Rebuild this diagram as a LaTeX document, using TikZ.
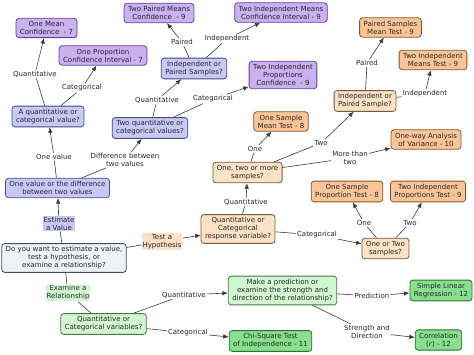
\documentclass[tikz,border=0pt]{standalone}
\usepackage{fontspec}
\setmainfont{DejaVu Sans}
\usetikzlibrary{arrows.meta}

\definecolor{estfill}{HTML}{C8C8F7}
\definecolor{estdraw}{HTML}{4A4A94}
\definecolor{cifill}{HTML}{CBB0F2}
\definecolor{cidraw}{HTML}{5E4494}
\definecolor{hypfill}{HTML}{FBE1C6}
\definecolor{hypdraw}{HTML}{765A40}
\definecolor{testfill}{HTML}{FCC597}
\definecolor{testdraw}{HTML}{85562A}
\definecolor{relfill}{HTML}{D2F7D0}
\definecolor{reldraw}{HTML}{447A44}
\definecolor{resfill}{HTML}{86E08E}
\definecolor{resdraw}{HTML}{307030}
\definecolor{startfill}{HTML}{EEF2F6}
\definecolor{startdraw}{HTML}{4A4E53}
\definecolor{linkgray}{HTML}{3A3A3A}

\begin{document}
\begin{tikzpicture}[x=1pt, y=-1pt,
    font=\fontsize{7}{8}\selectfont,
    concept/.style={rounded corners=3pt, draw, line width=0.8pt, align=center,
        inner xsep=4pt, inner ysep=3pt, text=black!85},
    estq/.style={concept, fill=estfill, draw=estdraw},
    cires/.style={concept, fill=cifill, draw=cidraw},
    startq/.style={concept, fill=startfill, draw=startdraw},
    hypq/.style={concept, fill=hypfill, draw=hypdraw},
    testres/.style={concept, fill=testfill, draw=testdraw},
    relq/.style={concept, fill=relfill, draw=reldraw},
    relres/.style={concept, fill=resfill, draw=resdraw},
    link/.style={inner sep=1pt, align=center, text=black!85},
    conn/.style={draw=linkgray, line width=0.6pt},
    arr/.style={conn, -{Latex[length=5.5pt,width=4.5pt]}}]
        \useasboundingbox (0,0) rectangle (474,355);

        % start question
        \node[startq] (start) at (64,258) {Do you want to estimate a value,\\test a hypothesis, or\\examine a relationship?};

        % estimate a value
        \node[estq] (onevaluediff) at (57.5,188) {One value or the difference\\between two values};
        \node[estq] (quantcatvalue) at (48,116.5) {A quantitative or\\categorical value?};
        \node[estq] (twoquantcat) at (150,128) {Two quantitative or\\categorical values?};
        \node[estq] (indeppairedci) at (194,68.5) {Independent or\\Paired Samples?};
        \node[cires] (onemeanci) at (46.5,28) {One Mean\\Confidence~ - 7};
        \node[cires] (onepropci) at (103,55.5) {One Proportion\\Confidence Interval - 7};
        \node[cires] (twopairedci) at (159,13) {Two Paired Means\\Confidence~ - 9};
        \node[cires] (twoindepmeansci) at (281,12.5) {Two Independent Means\\Confidence Interval - 9};
        \node[cires] (twoindeppropci) at (283,75) {Two Independent\\Proportions\\Confidence~ - 9};

        % test a hypothesis
        \node[hypq] (responsevar) at (238,229) {Quantitative or\\Categorical\\response variable?};
        \node[hypq] (numsamples) at (247.5,172.5) {One, two or more\\samples?};
        \node[hypq] (indeppairedtest) at (365,101) {Independent or\\Paired Sample?};
        \node[hypq] (oneortwo) at (385.5,248.5) {One or Two\\samples?};
        \node[testres] (onemeantest) at (281,121.5) {One Sample\\Mean Test - 8};
        \node[testres] (pairedtest) at (390.5,27.5) {Paired Samples\\Mean Test - 9};
        \node[testres] (twoindepmeanstest) at (433,60) {Two Independent\\Means Test - 9};
        \node[testres] (anova) at (426,139.5) {One-way Analysis\\of Variance - 10};
        \node[testres] (onepropest) at (347,191.5) {One Sample\\Proportion Test - 8};
        \node[testres] (twoproptest) at (428,191.5) {Two Independent\\Proportions Test - 9};

        % examine a relationship
        \node[relq] (relvars) at (103.5,324) {Quantitative or\\Categorical variables?};
        \node[relq] (predictq) at (282.5,290.5) {Make a prediction or\\examine the strength and\\direction of the relationship?};
        \node[relres] (regression) at (441,290.5) {Simple Linear\\Regression - 12};
        \node[relres] (chisq) at (270.5,341) {Chi-Square Test\\of Independence - 11};
        \node[relres] (correlation) at (438.5,340) {Correlation\\(\textit{r}) - 12};

        % linking phrases
        \node[link, fill=estfill] (estimate) at (59,223.5) {Estimate\\a Value};
        \node[link, fill=hypfill] (hypothesis) at (162,241.5) {Test a\\Hypothesis};
        \node[link, fill=relfill] (examine) at (68,293) {Examine a\\Relationship};
        \node[link] (lonevalue) at (54,157) {One value};
        \node[link] (ldiff) at (125,160) {Difference between\\two values};
        \node[link] (lquantone) at (35,74) {Quantitative};
        \node[link] (lcatone) at (82,88) {Categorical};
        \node[link] (lquanttwo) at (157,100) {Quantitative};
        \node[link] (lcattwo) at (213,99) {Categorical};
        \node[link] (lpairedci) at (182,42) {Paired};
        \node[link] (lindepci) at (227,39) {Independent};
        \node[link] (lquantresp) at (246,202) {Quantitative};
        \node[link] (lcatresp) at (317,235) {Categorical};
        \node[link] (lonemean) at (255,149) {One};
        \node[link] (ltwomean) at (321,143) {Two};
        \node[link] (lmore) at (350,158) {More than\\two};
        \node[link] (lpairedtest) at (367,63) {Paired};
        \node[link] (lindeptest) at (425,94) {Independent};
        \node[link] (loneprop) at (364,223) {One};
        \node[link] (ltwoprop) at (410,223) {Two};
        \node[link] (lquantrel) at (184,295) {Quantitative};
        \node[link] (lcatrel) at (188,333) {Categorical};
        \node[link] (lpredict) at (372,296) {Prediction};
        \node[link] (lstrength) at (367,332) {Strength and\\Direction};

        % connectors, estimate branch
        \draw[conn] (start) -- (estimate);  \draw[arr] (estimate) -- (onevaluediff);
        \draw[conn] (onevaluediff) -- (lonevalue);  \draw[arr] (lonevalue) -- (quantcatvalue);
        \draw[conn] (onevaluediff) -- (ldiff);  \draw[arr] (ldiff) -- (twoquantcat);
        \draw[conn] (quantcatvalue) -- (lquantone);  \draw[arr] (lquantone) -- (onemeanci);
        \draw[conn] (quantcatvalue) -- (lcatone);  \draw[arr] (lcatone) -- (onepropci);
        \draw[conn] (twoquantcat) -- (lquanttwo);  \draw[arr] (lquanttwo) -- (indeppairedci);
        \draw[conn] (twoquantcat) -- (lcattwo);  \draw[arr] (lcattwo) -- (twoindeppropci);
        \draw[conn] (indeppairedci) -- (lpairedci);  \draw[arr] (lpairedci) -- (twopairedci);
        \draw[conn] (indeppairedci) -- (lindepci);  \draw[arr] (lindepci) -- (twoindepmeansci);

        % connectors, hypothesis branch
        \draw[conn] (start) -- (hypothesis);  \draw[arr] (hypothesis) -- (responsevar);
        \draw[conn] (responsevar) -- (lquantresp);  \draw[arr] (lquantresp) -- (numsamples);
        \draw[conn] (responsevar) -- (lcatresp);  \draw[arr] (lcatresp) -- (oneortwo);
        \draw[conn] (numsamples) -- (lonemean);  \draw[arr] (lonemean) -- (onemeantest);
        \draw[conn] (numsamples) -- (ltwomean);  \draw[arr] (ltwomean) -- (indeppairedtest);
        \draw[conn] (numsamples) -- (lmore);  \draw[arr] (lmore) -- (anova);
        \draw[conn] (indeppairedtest) -- (lpairedtest);  \draw[arr] (lpairedtest) -- (pairedtest);
        \draw[conn] (indeppairedtest) -- (lindeptest);  \draw[arr] (lindeptest) -- (twoindepmeanstest);
        \draw[conn] (oneortwo) -- (loneprop);  \draw[arr] (loneprop) -- (onepropest);
        \draw[conn] (oneortwo) -- (ltwoprop);  \draw[arr] (ltwoprop) -- (twoproptest);

        % connectors, relationship branch
        \draw[conn] (start) -- (examine);  \draw[conn] (examine) -- (relvars);
        \draw[conn] (relvars) -- (lquantrel);  \draw[arr] (lquantrel) -- (predictq);
        \draw[conn] (relvars) -- (lcatrel);  \draw[arr] (lcatrel) -- (chisq);
        \draw[conn] (predictq) -- (lpredict);  \draw[arr] (lpredict) -- (regression);
        \draw[conn] (predictq) -- (lstrength);  \draw[arr] (lstrength) -- (correlation);
    \end{tikzpicture}
\end{document}
